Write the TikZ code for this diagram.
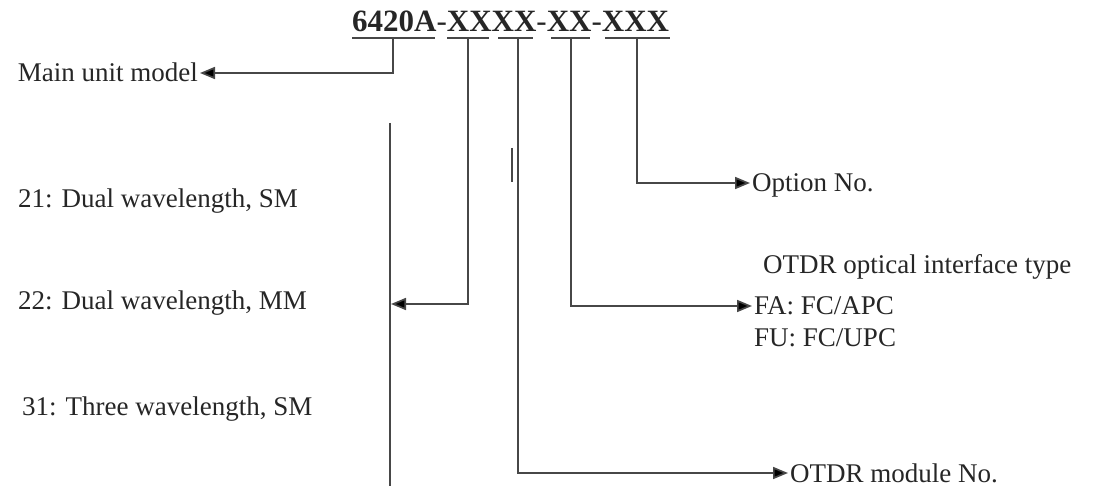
\documentclass[tikz,border=0pt]{standalone}
\usepackage{fontspec}
\setmainfont{Liberation Serif}
\usetikzlibrary{arrows.meta}
\begin{document}
\begin{tikzpicture}[x=1bp,y=-1bp,
  conn/.style={draw=black!72, line width=1.7bp},
  arr/.style={conn, -{Triangle[length=15bp,width=12bp,fill=black]}},
  lbl/.style={anchor=base west, inner xsep=2bp, inner ysep=0pt, text height=18bp, text depth=0pt, text=black!85, font=\fontsize{27bp}{36bp}\selectfont},
  ttl/.style={anchor=base west, inner sep=0pt, text=black!85, font=\fontsize{31bp}{36bp}\selectfont}
]
\useasboundingbox (0,0) rectangle (1097,489);
% title
\node[ttl] (title) at (352,32) {\textbf{6420A}-\textbf{XXXX}-\textbf{XX}-\textbf{XXX}};
% underline segments
\draw[conn] (352,38) -- (435,38);
\draw[conn] (447,38) -- (489,38);
\draw[conn] (498,38) -- (533,38);
\draw[conn] (551,38) -- (590,38);
\draw[conn] (605,38) -- (670,38);
\coordinate (u1) at (393,38);
\coordinate (u2) at (468,38);
\coordinate (u3) at (518,38);
\coordinate (u4) at (571,38);
\coordinate (u5) at (637,38);
% labels
\node[lbl, anchor=base east] (main) at (200,82) {Main unit model};
\node[lbl] (opt) at (750,192) {Option No.};
\node[lbl] (l21) at (16,208) {21: Dual wavelength, SM};
\node[lbl] (l22) at (16,310) {22: Dual wavelength, MM};
\node[lbl] (l31) at (20,415) {31: Three wavelength, SM};
\node[lbl] (ifc) at (761,274) {OTDR optical interface type};
\node[lbl] (fa) at (752,315) {FA: FC/APC};
\node[lbl] (fu) at (752,347) {FU: FC/UPC};
\node[lbl] (mod) at (788,482) {OTDR module No.};
% long bracket line and short mark
\coordinate (ltop) at (390,123);
\coordinate (lbot) at (390,486);
\draw[conn] (ltop) -- (lbot);
\coordinate (ljoin) at (391,304);
\coordinate (mtop) at (512,148);
\coordinate (mbot) at (512,182);
\draw[conn] (mtop) -- (mbot);
% connectors
\draw[arr] (u1) |- (main.east);
\draw[arr] (u5) |- (opt.west);
\draw[arr] (u2) |- (ljoin);
\draw[arr] (u4) |- (fa.west);
\draw[arr] (u3) |- (mod.west);
\end{tikzpicture}
\end{document}
